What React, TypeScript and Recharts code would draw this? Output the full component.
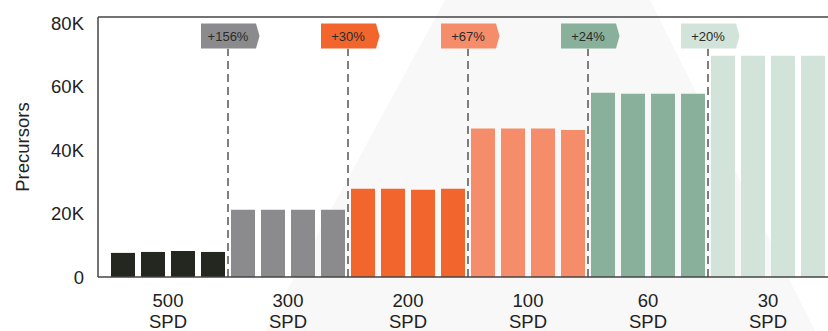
import React from 'react';
import { BarChart, Bar, Cell, XAxis, YAxis, ReferenceLine, ReferenceDot } from 'recharts';

// Values
const speeds = ['500', '300', '200', '100', '60', '30'];
const precursors = [
  [7600, 7900, 8200, 7900],
  [21200, 21200, 21200, 21200],
  [27800, 27800, 27500, 27800],
  [46800, 46800, 46800, 46400],
  [58100, 57800, 57800, 57800],
  [69800, 69800, 69800, 69800],
];
const gains = ['+156%', '+30%', '+67%', '+24%', '+20%'];
const yTicks = [0, 20000, 40000, 60000, 80000];

const colors = ['#232720', '#8b8b8d', '#f2662e', '#f58d6a', '#88b09a', '#d2e3d9'];

const rows = precursors.flatMap((g, gi) =>
  g.map((v, j) => ({ pos: gi * 4 + j + 0.5, value: v, group: gi }))
);
const boundaries = gains.map((_, i) => (i + 1) * 4);
const groupCenters = speeds.map((_, i) => i * 4 + 2);

const font = '"Liberation Sans", Arial, sans-serif';

function SpeedTick(props: any) {
  const { x, y, payload } = props;
  const label = speeds[(payload.value - 2) / 4];
  return (
    <text textAnchor="middle" fontSize={18.5} fill="#222" fontFamily={font}>
      <tspan x={x} y={y + 22}>{label}</tspan>
      <tspan x={x} y={y + 43}>SPD</tspan>
    </text>
  );
}

function makeTag(text: string, fill: string) {
  return (props: any) => {
    const { cx, cy } = props;
    const l = cx - 27;
    const r = cx + 28;
    const t = cy - 12.5;
    const b = cy + 12.5;
    return (
      <g>
        <polygon points={`${l},${t} ${r},${t} ${r + 3.5},${cy} ${r},${b} ${l},${b}`} fill={fill} />
        <text x={cx} y={cy + 4.5} textAnchor="middle" fontSize={13} fill="#2a2a2a" fontFamily={font}>
          {text}
        </text>
      </g>
    );
  };
}

export default function App() {
  return (
    <div style={{ position: 'absolute', left: 0, top: 0, width: 828, height: 331, overflow: 'hidden', background: '#fff' }}>
      <svg width={828} height={331} style={{ position: 'absolute', left: 0, top: 0 }}>
        <polygon points="445,0 650,0 815,331 265,331" fill="#f7f8f7" />
      </svg>
      <div style={{ position: 'absolute', left: 0, top: 0 }}>
        <BarChart
          width={828}
          height={331}
          data={rows}
          margin={{ top: 17, right: 0, bottom: 0, left: 0 }}
          style={{ fontFamily: font }}
        >
          <XAxis
            dataKey="pos"
            type="number"
            domain={[0, 24]}
            ticks={groupCenters}
            padding={{ left: 10, right: 0 }}
            height={54}
            tickLine={false}
            axisLine={{ stroke: '#444', strokeWidth: 1.5 }}
            tick={<SpeedTick />}
            interval={0}
          />
          <YAxis
            domain={[0, 82000]}
            ticks={yTicks}
            width={98}
            tickLine={false}
            tickSize={6}
            tickMargin={8}
            axisLine={{ stroke: '#444', strokeWidth: 1.5 }}
            tick={{ fontSize: 18.5, fill: '#222', fontFamily: font }}
            tickFormatter={(v: number) => (v === 0 ? '0' : `${v / 1000}K`)}
            label={{
              value: 'Precursors',
              angle: -90,
              position: 'insideLeft',
              offset: 22,
              style: { textAnchor: 'middle', fontSize: 18.5, fill: '#222', fontFamily: font },
            }}
          />
          <ReferenceLine y={82000} stroke="#444" strokeWidth={1.5} />
          <Bar dataKey="value" barSize={24} isAnimationActive={false}>
            {rows.map((r, i) => (
              <Cell key={i} fill={colors[r.group]} />
            ))}
          </Bar>
          {boundaries.map((b) => (
            <ReferenceLine
              key={`l${b}`}
              segment={[
                { x: b, y: 0 },
                { x: b, y: 72000 },
              ]}
              stroke="#555"
              strokeWidth={1.5}
              strokeDasharray="8 5"
            />
          ))}
          {boundaries.map((b, i) => (
            <ReferenceDot
              key={`t${b}`}
              x={b}
              y={76000}
              r={1}
              shape={makeTag(gains[i], colors[i + 1])}
            />
          ))}
        </BarChart>
      </div>
    </div>
  );
}
